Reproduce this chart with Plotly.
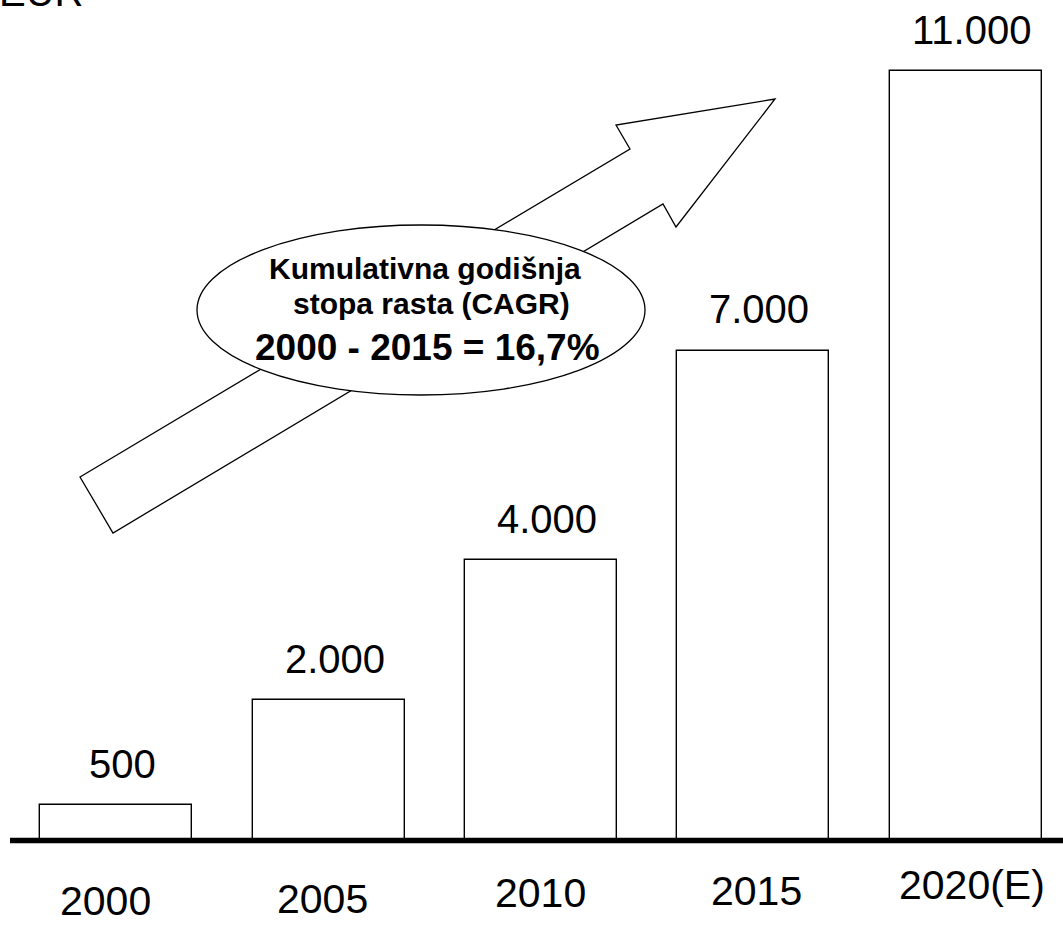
import plotly.graph_objects as go

# Revenue by year (EUR)
years = ["2000", "2005", "2010", "2015", "2020(E)"]
values = [500, 2000, 4000, 7000, 11000]
value_labels = ["500", "2.000", "4.000", "7.000", "11.000"]

# CAGR callout text
cagr_lines = ["Kumulativna godišnja", "stopa rasta (CAGR)", "2000 - 2015 = 16,7%"]

W, H = 1063, 925
FONT = "Liberation Sans, Arial, sans-serif"

# Axis geometry (pixels)
BAR_C0, BAR_STEP, BAR_W = 116.3, 212.3, 152.0
ZERO_PX, PX_PER_UNIT = 840.0, 0.0699

x_range = [-BAR_C0 / BAR_STEP, (W - BAR_C0) / BAR_STEP]
y_range = [-(H - ZERO_PX) / PX_PER_UNIT, ZERO_PX / PX_PER_UNIT]


def px(x):
    return x / W


def py(y):
    return 1 - y / H


def baseline_y(y_base, size):
    # paper y of the text box bottom so the glyph baseline lands on y_base
    return py(y_base + 0.212 * size + 1)


xs = list(range(len(years)))

fig = go.Figure()
fig.add_trace(go.Bar(
    x=xs, y=values, width=BAR_W / BAR_STEP,
    marker=dict(color="white", line=dict(color="black", width=1.4)),
    hoverinfo="skip", showlegend=False,
))

shapes = []

# Block arrow (pixel outline)
arrow = [(80, 477), (630, 149), (616, 125), (775, 99), (676, 227), (663, 204), (113, 533)]
path = "M " + " L ".join(f"{px(a):.5f},{py(b):.5f}" for a, b in arrow) + " Z"
shapes.append(dict(type="path", xref="paper", yref="paper", path=path,
                   fillcolor="white", line=dict(color="black", width=1.3), layer="above"))

# Ellipse callout
shapes.append(dict(type="circle", xref="paper", yref="paper",
                   x0=px(197), x1=px(645), y0=py(395), y1=py(225),
                   fillcolor="white", line=dict(color="black", width=1.3), layer="above"))

# Thick baseline
shapes.append(dict(type="line", xref="paper", yref="paper",
                   x0=px(10), x1=1, y0=py(840.5), y1=py(840.5),
                   line=dict(color="black", width=5.5), layer="above"))

annotations = []

# Value labels above bars
for i, (v, lab) in enumerate(zip(values, value_labels)):
    annotations.append(dict(x=i, y=v, xref="x", yref="y", text=lab, showarrow=False,
                            xanchor="center", yanchor="bottom", xshift=6, yshift=17.5,
                            font=dict(family=FONT, size=40, color="black")))

# Year labels under the baseline (staggered)
year_cx = [105, 322, 540, 756, 972]
year_base = [916, 914, 908, 906, 900]
for name, cx, yb in zip(years, year_cx, year_base):
    annotations.append(dict(x=px(cx), y=baseline_y(yb, 41), xref="paper", yref="paper",
                            text=name, showarrow=False, xanchor="center", yanchor="bottom",
                            font=dict(family=FONT, size=41, color="black")))

# Unit label, top-left
annotations.append(dict(x=px(-3), y=baseline_y(7, 40), xref="paper", yref="paper",
                        text="EUR", showarrow=False, xanchor="left", yanchor="bottom",
                        font=dict(family=FONT, size=40, color="black")))

# Callout text
cagr_cx = [425, 431, 427]
cagr_base = [280, 315, 361]
cagr_size = [30, 30, 37]
for t, cx, yb, s in zip(cagr_lines, cagr_cx, cagr_base, cagr_size):
    annotations.append(dict(x=px(cx), y=baseline_y(yb, s), xref="paper", yref="paper",
                            text=f"<b>{t}</b>", showarrow=False, xanchor="center", yanchor="bottom",
                            font=dict(family=FONT, size=s, color="black")))

fig.update_layout(
    width=W, height=H,
    margin=dict(l=0, r=0, t=0, b=0),
    paper_bgcolor="white", plot_bgcolor="white",
    xaxis=dict(range=x_range, visible=False, fixedrange=True),
    yaxis=dict(range=y_range, visible=False, fixedrange=True),
    shapes=shapes, annotations=annotations,
    bargap=0,
)

fig.write_html("out.html")
